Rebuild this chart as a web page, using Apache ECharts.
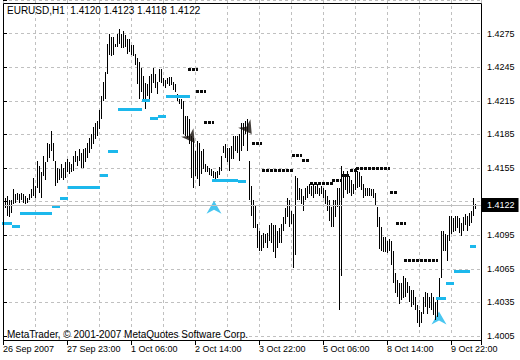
<!DOCTYPE html>
<html><head><meta charset="utf-8">
<script src="https://cdn.jsdelivr.net/npm/echarts@6/dist/echarts.min.js"></script>
<style>html,body{margin:0;padding:0;background:#fff}#c{width:520px;height:360px}</style>
</head><body><div id="c"></div>
<script>
const symbolName = 'EURUSD,H1';
const lastOHLC = ['1.4120', '1.4123', '1.4118', '1.4122'];
const lastPrice = 1.4122;
const copyright = 'MetaTrader, \u00A9 2001-2007 MetaQuotes Software Corp.';
const timeLabels = ['26 Sep 2007', '27 Sep 23:00', '1 Oct 06:00', '2 Oct 14:00', '3 Oct 22:00', '5 Oct 06:00', '8 Oct 14:00', '9 Oct 22:00'];

const barHigh = [
1.4128,1.4128,1.4130,1.4126,1.4126,1.4136,1.4132,1.4133,1.4132,1.4133,
1.4132,1.4130,1.4128,1.4132,1.4136,1.4146,1.4139,1.4161,1.4157,1.4151,
1.4166,1.4160,1.4177,1.4176,1.4188,1.4177,1.4161,1.4155,1.4154,1.4159,
1.4155,1.4160,1.4163,1.4160,1.4159,1.4166,1.4170,1.4166,1.4172,1.4168,
1.4172,1.4173,1.4177,1.4182,1.4185,1.4192,1.4195,1.4197,1.4207,1.4219,
1.4232,1.4241,1.4266,1.4275,1.4272,1.4272,1.4266,1.4275,1.4279,1.4275,
1.4277,1.4274,1.4270,1.4270,1.4265,1.4265,1.4257,1.4253,1.4250,1.4244,
1.4237,1.4231,1.4230,1.4237,1.4239,1.4244,1.4239,1.4232,1.4243,1.4243,
1.4235,1.4234,1.4235,1.4236,1.4236,1.4232,1.4230,1.4221,1.4217,1.4217,
1.4215,1.4201,1.4201,1.4199,1.4184,1.4182,1.4170,1.4179,1.4177,1.4170,
1.4172,1.4159,1.4157,1.4155,1.4154,1.4152,1.4151,1.4152,1.4156,1.4166,
1.4175,1.4176,1.4173,1.4173,1.4175,1.4184,1.4184,1.4184,1.4185,1.4195,
1.4195,1.4197,1.4199,1.4161,1.4139,1.4126,1.4121,1.4105,1.4099,1.4095,
1.4097,1.4096,1.4097,1.4104,1.4106,1.4104,1.4104,1.4099,1.4101,1.4105,
1.4111,1.4119,1.4128,1.4126,1.4117,1.4114,1.4148,1.4146,1.4137,1.4136,
1.4130,1.4137,1.4139,1.4141,1.4139,1.4141,1.4139,1.4141,1.4137,1.4139,
1.4137,1.4135,1.4130,1.4126,1.4120,1.4126,1.4126,1.4137,1.4137,1.4157,
1.4152,1.4150,1.4152,1.4148,1.4144,1.4141,1.4155,1.4152,1.4151,1.4148,
1.4141,1.4137,1.4137,1.4137,1.4136,1.4136,1.4133,1.4120,1.4111,1.4102,
1.4093,1.4093,1.4090,1.4092,1.4090,1.4081,1.4061,1.4055,1.4052,1.4052,
1.4059,1.4057,1.4053,1.4050,1.4046,1.4046,1.4040,1.4033,1.4028,1.4026,
1.4040,1.4044,1.4043,1.4040,1.4043,1.4040,1.4035,1.4039,1.4057,1.4099,
1.4099,1.4096,1.4095,1.4112,1.4112,1.4110,1.4112,1.4112,1.4110,1.4106,
1.4111,1.4114,1.4112,1.4115,1.4117,1.4128,1.4123
];
const barLow = [
1.4117,1.4119,1.4112,1.4111,1.4115,1.4123,1.4124,1.4126,1.4124,1.4126,
1.4124,1.4123,1.4124,1.4126,1.4128,1.4130,1.4128,1.4137,1.4133,1.4128,
1.4148,1.4144,1.4160,1.4164,1.4170,1.4161,1.4139,1.4142,1.4144,1.4146,
1.4144,1.4146,1.4151,1.4150,1.4151,1.4152,1.4160,1.4157,1.4161,1.4155,
1.4155,1.4160,1.4164,1.4168,1.4172,1.4176,1.4181,1.4184,1.4190,1.4199,
1.4215,1.4217,1.4239,1.4256,1.4255,1.4256,1.4263,1.4263,1.4266,1.4262,
1.4262,1.4263,1.4257,1.4259,1.4256,1.4255,1.4247,1.4230,1.4217,1.4223,
1.4216,1.4208,1.4219,1.4216,1.4222,1.4231,1.4226,1.4221,1.4232,1.4231,
1.4228,1.4226,1.4230,1.4228,1.4229,1.4225,1.4223,1.4215,1.4212,1.4208,
1.4185,1.4184,1.4182,1.4176,1.4146,1.4137,1.4148,1.4145,1.4139,1.4150,
1.4154,1.4151,1.4151,1.4149,1.4148,1.4146,1.4145,1.4146,1.4149,1.4152,
1.4168,1.4164,1.4160,1.4152,1.4163,1.4163,1.4170,1.4168,1.4161,1.4170,
1.4175,1.4185,1.4170,1.4126,1.4112,1.4101,1.4101,1.4084,1.4081,1.4081,
1.4084,1.4088,1.4084,1.4090,1.4088,1.4080,1.4075,1.4084,1.4088,1.4088,
1.4099,1.4105,1.4111,1.4102,1.4105,1.4066,1.4077,1.4126,1.4126,1.4123,
1.4117,1.4126,1.4128,1.4132,1.4130,1.4128,1.4132,1.4132,1.4130,1.4132,
1.4128,1.4123,1.4117,1.4108,1.4102,1.4102,1.4111,1.4120,1.4028,1.4059,
1.4128,1.4135,1.4132,1.4133,1.4130,1.4132,1.4135,1.4137,1.4138,1.4135,
1.4128,1.4130,1.4130,1.4130,1.4130,1.4128,1.4121,1.4102,1.4083,1.4081,
1.4080,1.4080,1.4079,1.4081,1.4068,1.4052,1.4043,1.4040,1.4034,1.4037,
1.4039,1.4040,1.4043,1.4035,1.4031,1.4033,1.4028,1.4017,1.4013,1.4017,
1.4025,1.4031,1.4025,1.4030,1.4028,1.4024,1.4019,1.4022,1.4039,1.4057,
1.4081,1.4081,1.4072,1.4090,1.4096,1.4098,1.4099,1.4101,1.4097,1.4094,
1.4099,1.4104,1.4099,1.4103,1.4106,1.4112,1.4118
];

// [first bar, last bar, level]
const supportLevels = [
[0,4,1.4106],[5,8,1.4103],[9,24,1.4115],[25,28,1.4121],[29,32,1.4128],
[33,48,1.4138],[49,52,1.4149],[53,57,1.4170],[58,69,1.4208],[70,73,1.4216],
[74,77,1.4200],[78,81,1.4201],[82,93,1.4219],[105,117,1.4144],[118,121,1.4143],
[217,221,1.4039],[222,225,1.4052],[226,233,1.4063],[234,236,1.4085]
];
const resistanceLevels = [
[93,97,1.4243],[97,101,1.4224],[101,105,1.4196],[125,129,1.4177],[130,145,1.4153],
[145,149,1.4167],[150,153,1.4162],[154,165,1.4142],[165,169,1.4144],[170,173,1.4149],
[174,177,1.4153],[177,193,1.4155],[194,197,1.4134],[197,201,1.4106],[201,217,1.4073]
];
const buyArrows = [[105.5, 1.4120], [218, 1.4021]];
const sellArrows = [[94, 1.4182], [122.5, 1.4190]];

// pick a narrow font if it is installed, otherwise a smaller regular one
function hasFont(name) {
  const ctx = document.createElement('canvas').getContext('2d');
  const s = '1.4275 27 Sep 23:00 MetaQuotes';
  ctx.font = '20px monospace';
  const a = ctx.measureText(s).width;
  ctx.font = "20px '" + name + "', monospace";
  const b = ctx.measureText(s).width;
  return Math.abs(a - b) > 0.5;
}
const NARROW = hasFont('Liberation Sans Narrow');
const FONT = NARROW ? "'Liberation Sans Narrow'" : "'Liberation Sans', Arial, sans-serif";
const FS = NARROW ? 11 : 9;
const FS_TEXT = NARROW ? 11 : 10;
const CYAN = '#1cb8ec';
const GRIDC = '#c0c0c0';

const bars = barHigh.map((h, i) => [i, barLow[i], h]);

function barItem(params, api) {
  const i = api.value(0);
  const top = api.coord([i, api.value(2)]);
  const bot = api.coord([i, api.value(1)]);
  const y0 = Math.round(top[1]);
  return { type: 'rect', shape: { x: Math.round(top[0]), y: y0, width: 1, height: Math.max(1, Math.round(bot[1]) - y0) }, style: { fill: '#000' } };
}
function levelItem(dashed) {
  return function (params, api) {
    const a = api.coord([api.value(0) - 0.5, api.value(2)]);
    const b = api.coord([api.value(1) + 0.5, api.value(2)]);
    const y = Math.round(a[1]) + 0.5;
    return { type: 'line', shape: { x1: Math.round(a[0]), y1: y, x2: Math.round(b[0]), y2: y },
      style: dashed ? { stroke: '#0a0a0a', lineWidth: 3, lineDash: [3, 1] } : { stroke: CYAN, lineWidth: 3 } };
  };
}

const chart = echarts.init(document.getElementById('c'), null, { renderer: 'svg' });
chart.setOption({
  animation: false,
  backgroundColor: '#fff',
  textStyle: { fontFamily: FONT, fontSize: FS },
  grid: { left: 3, right: 39, top: -2, bottom: 24 },
  xAxis: [
    { type: 'value', position: 'bottom', min: 0, max: 239, interval: 16,
      axisLine: { show: false }, axisTick: { show: false }, axisLabel: { show: false },
      splitLine: { show: true, lineStyle: { color: GRIDC, type: [3, 3], width: 1 } } },
    { type: 'value', position: 'bottom', offset: 4, min: 0, max: 239, interval: 32,
      axisLine: { show: false }, splitLine: { show: false },
      axisTick: { show: true, length: 5, lineStyle: { color: '#000' } },
      axisLabel: { show: true, margin: 4, align: 'left', color: '#000', fontSize: FS, fontFamily: FONT,
        formatter: v => (v % 32 === 0 && timeLabels[v / 32] !== undefined) ? timeLabels[v / 32] : '' } }
  ],
  yAxis: {
    type: 'value', position: 'right', min: 1.4005, max: 1.4305, interval: 0.003,
    axisLine: { show: false },
    axisTick: { show: true, length: 4, lineStyle: { color: '#000' } },
    axisLabel: { margin: 6, color: '#000', fontSize: FS, fontFamily: FONT,
      formatter: v => (v > 1.428 || Math.abs(v - lastPrice) < 0.0008) ? '' : v.toFixed(4) },
    splitLine: { show: true, lineStyle: { color: GRIDC, type: [3, 3], width: 1 } }
  },
  series: [
    { type: 'scatter', name: 'buy', data: buyArrows, xAxisIndex: 0, z: 1,
      symbol: 'path://M8,0 L16,13 L8,9 L0,13 Z', symbolSize: [15, 13],
      itemStyle: { color: CYAN },
      markLine: { silent: true, symbol: 'none', animation: false, precision: 4,
        data: [{ yAxis: lastPrice }],
        lineStyle: { color: GRIDC, type: 'solid', width: 1 },
        label: { show: true, position: 'end', distance: 1, formatter: lastPrice.toFixed(4),
          color: '#fff', backgroundColor: '#000', padding: [3, 4, 2, 5], fontSize: FS, fontFamily: FONT } } },
    { type: 'custom', name: 'bars', data: bars, xAxisIndex: 0, z: 2, clip: true,
      encode: { x: 0, y: [1, 2] }, renderItem: barItem },
    { type: 'custom', name: 'support', data: supportLevels, xAxisIndex: 0, z: 3,
      encode: { x: [0, 1], y: 2 }, renderItem: levelItem(false) },
    { type: 'custom', name: 'resistance', data: resistanceLevels, xAxisIndex: 0, z: 3,
      encode: { x: [0, 1], y: 2 }, renderItem: levelItem(true) },
    { type: 'scatter', name: 'sell', data: sellArrows, xAxisIndex: 0, z: 5,
      symbol: 'path://M8,0 L16,13 L8,9 L0,13 Z', symbolSize: [15, 13], symbolRotate: 215,
      itemStyle: { color: '#150f0a' } }
  ],
  graphic: [
    { type: 'text', left: 7, top: 5, z: 10,
      style: { text: symbolName + '  ' + lastOHLC.join(' '), fill: '#000', font: FS_TEXT + 'px ' + FONT } },
    { type: 'text', left: 7, top: 329, z: 10,
      style: { text: copyright, fill: '#000', font: FS_TEXT + 'px ' + FONT } },
    { type: 'rect', z: 20, silent: true,
      shape: { x: 3.5, y: 3.5, width: 478, height: 337 },
      style: { fill: 'none', stroke: '#000', lineWidth: 1 } }
  ]
});
</script></body></html>
